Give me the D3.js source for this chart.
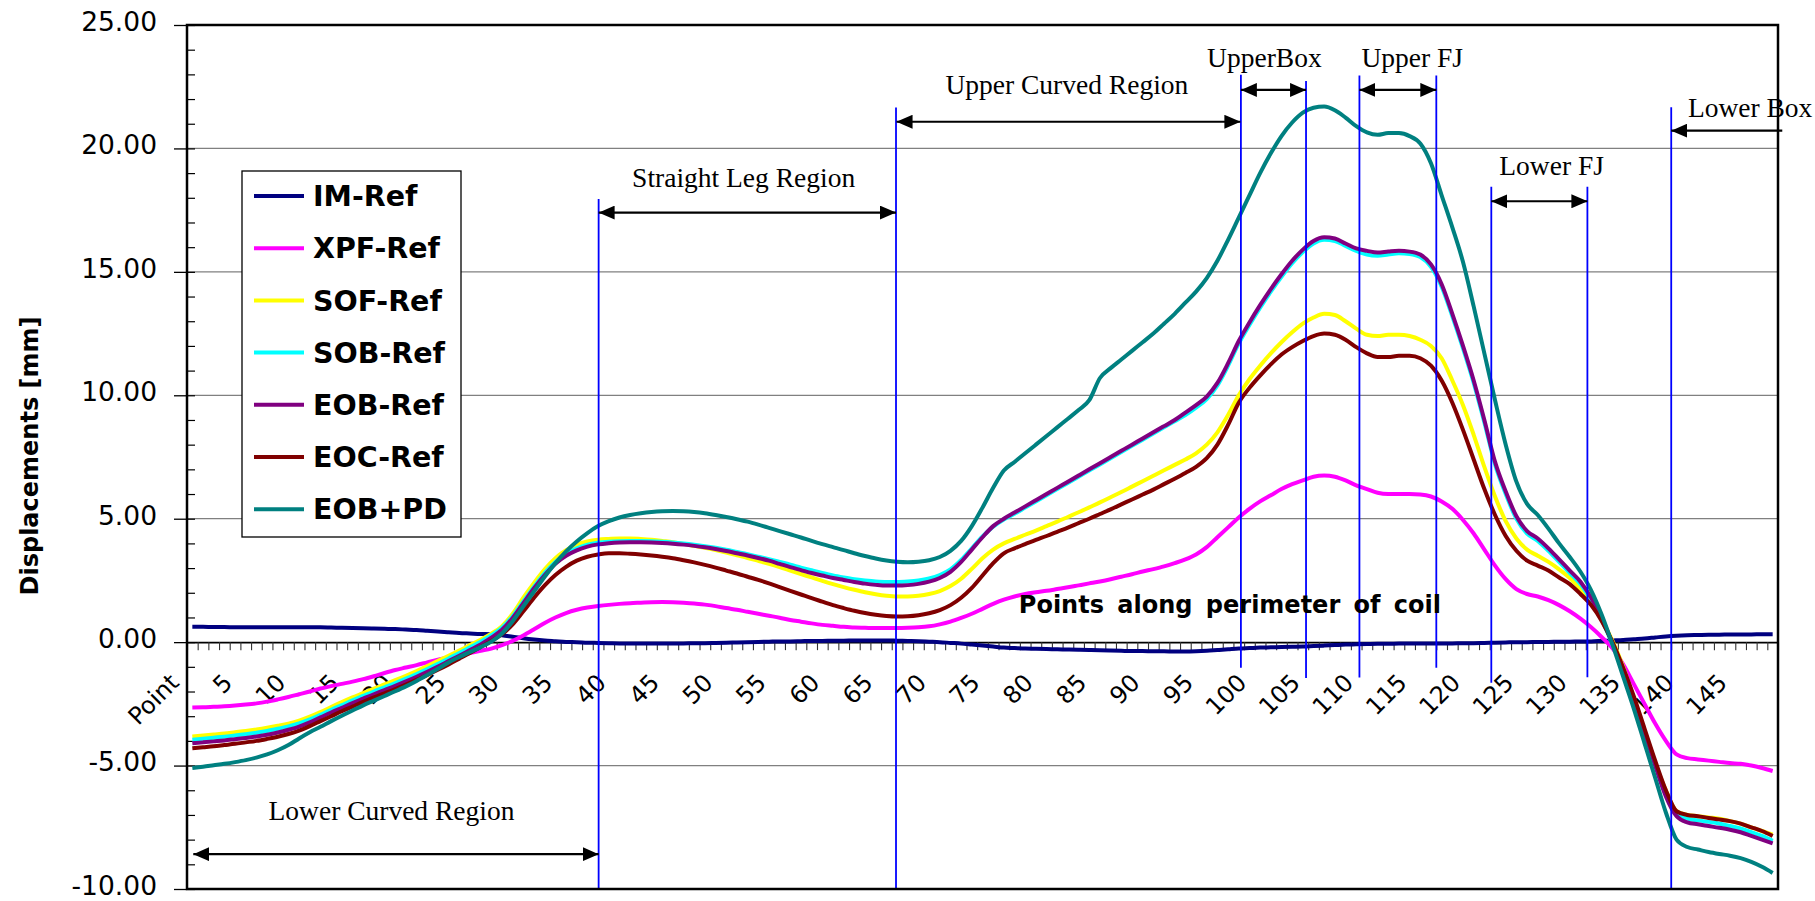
<!DOCTYPE html>
<html><head><meta charset="utf-8">
<script src="https://cdn.jsdelivr.net/npm/d3@7"></script>
<style>
html,body{margin:0;padding:0;background:#fff;}
svg{display:block;}
</style></head><body>
<svg id="chart" width="1815" height="901"></svg>
<script>
// ---- data ----
const categories = ["Point", ...d3.range(1, 149).map(String)];
const tickLabels = categories.filter((c, i) => i % 5 === 0);
const yTicks = [-10, -5, 0, 5, 10, 15, 20, 25];
const seriesNames = ["IM-Ref", "XPF-Ref", "SOF-Ref", "SOB-Ref", "EOB-Ref", "EOC-Ref", "EOB+PD"];

const imRef = [
  0.62, 0.62, 0.61, 0.61, 0.6, 0.6, 0.6, 0.6, 0.6, 0.6, 0.6, 0.6, 0.6,
  0.59, 0.58, 0.57, 0.56, 0.55, 0.54, 0.53, 0.51,
  0.49, 0.46, 0.43, 0.4, 0.37, 0.35, 0.33, 0.32, 0.28, 0.22,
  0.16, 0.11, 0.07, 0.04, 0.01, 0.0, -0.02,
  -0.03, -0.04, -0.05, -0.05, -0.05, -0.05, -0.05, -0.05, -0.05, -0.04, -0.04, -0.03, -0.02,
  -0.01, 0, 0.01, 0.02, 0.03, 0.03, 0.04, 0.05, 0.05, 0.06, 0.06, 0.07, 0.07, 0.07, 0.07, 0.06, 0.05,
  0.04, 0.02, 0.0, -0.03, -0.06, -0.1, -0.14, -0.18, -0.22,
  -0.24, -0.26, -0.27, -0.28, -0.29, -0.3, -0.31, -0.32, -0.33, -0.34, -0.35, -0.36, -0.36, -0.37, -0.37, -0.38, -0.38, -0.37, -0.35,
  -0.32, -0.29, -0.26, -0.24, -0.22, -0.21, -0.2, -0.19, -0.18, -0.16, -0.14, -0.12, -0.1, -0.09, -0.08,
  -0.07, -0.07, -0.06, -0.06, -0.06, -0.05, -0.05, -0.05, -0.04, -0.04, -0.03, -0.02, -0.01, 0, 0, 0.01, 0.01, 0.02, 0.02, 0.03, 0.03,
  0.05, 0.07, 0.09, 0.12, 0.15, 0.19, 0.23, 0.26, 0.28, 0.29, 0.3, 0.3, 0.31, 0.31, 0.31, 0.32, 0.32
];
const xpfRef = [
  -2.65, -2.64, -2.62, -2.6, -2.57, -2.53, -2.48, -2.41, -2.32, -2.22,
  -2.11, -2.0, -1.88, -1.78, -1.69, -1.6, -1.5, -1.38, -1.25, -1.13,
  -1.03, -0.93, -0.82, -0.71, -0.62, -0.53, -0.44, -0.35, -0.26, -0.12,
  0.05, 0.27, 0.52, 0.78, 1.0, 1.18, 1.31, 1.4, 1.46, 1.51,
  1.55, 1.58, 1.6, 1.62, 1.63, 1.62, 1.6, 1.57, 1.52, 1.46,
  1.38, 1.31, 1.23, 1.15, 1.07, 0.99, 0.9, 0.83, 0.76, 0.7,
  0.66, 0.62, 0.59, 0.58, 0.57, 0.57, 0.57, 0.58, 0.6, 0.64,
  0.72, 0.83, 0.98, 1.15, 1.35, 1.55, 1.72, 1.85, 1.95, 2.02,
  2.08, 2.15, 2.22, 2.3, 2.38, 2.46, 2.55, 2.65, 2.75, 2.86,
  2.96, 3.07, 3.2, 3.35, 3.55, 3.85, 4.25, 4.65, 5.05, 5.4,
  5.7, 5.95, 6.2, 6.4, 6.55, 6.7, 6.75, 6.7, 6.55, 6.35,
  6.2, 6.05, 6.0, 6.0, 6.0, 5.98, 5.9, 5.7, 5.4, 4.95,
  4.4, 3.75, 3.1, 2.55, 2.15, 1.95, 1.85, 1.7, 1.5, 1.25,
  0.95, 0.6, 0.2, -0.25, -0.9, -1.7, -2.5, -3.3, -4.0, -4.55,
  -4.7, -4.75, -4.8, -4.85, -4.9, -4.93, -5.0, -5.1, -5.22
];
const sofRef = [
  -3.82, -3.78, -3.74, -3.7, -3.65, -3.6, -3.54, -3.47, -3.39, -3.3,
  -3.18, -3.02, -2.83, -2.63, -2.43, -2.24, -2.06, -1.88, -1.71, -1.54,
  -1.36, -1.17, -0.97, -0.76, -0.55, -0.34, -0.12, 0.1, 0.34, 0.65,
  1.15, 1.8, 2.4, 2.95, 3.4, 3.72, 3.95, 4.08, 4.15, 4.18,
  4.2, 4.2, 4.18, 4.15, 4.1, 4.05, 3.98, 3.9, 3.82, 3.73,
  3.63, 3.52, 3.41, 3.29, 3.17, 3.04, 2.9, 2.76, 2.62, 2.48,
  2.35, 2.23, 2.12, 2.02, 1.94, 1.88, 1.85, 1.85, 1.88, 1.95,
  2.07, 2.27, 2.57, 2.97, 3.4, 3.75, 4.0, 4.18, 4.35, 4.52,
  4.7, 4.88, 5.07, 5.26, 5.46, 5.66, 5.87, 6.08, 6.3, 6.52,
  6.74, 6.96, 7.18, 7.4, 7.65, 8.0, 8.5, 9.2, 10.0, 10.65,
  11.2, 11.7, 12.15, 12.55, 12.9, 13.15, 13.3, 13.25, 13.0, 12.7,
  12.45, 12.4, 12.45, 12.45, 12.4, 12.25, 12.0, 11.5, 10.6, 9.6,
  8.4, 7.1, 5.9, 4.9, 4.2, 3.75, 3.5, 3.25, 2.95, 2.6,
  2.15, 1.6, 0.9, 0.05, -1.0, -2.3, -3.6, -4.9, -6.0, -6.85,
  -7.0, -7.05, -7.1, -7.15, -7.25, -7.35, -7.5, -7.65, -7.8
];
const sobRef = [
  -3.95, -3.91, -3.87, -3.83, -3.78, -3.73, -3.67, -3.6, -3.51, -3.41,
  -3.29, -3.13, -2.94, -2.74, -2.55, -2.36, -2.18, -2.0, -1.83, -1.66,
  -1.48, -1.29, -1.09, -0.88, -0.66, -0.44, -0.21, 0.02, 0.28, 0.58,
  1.05, 1.65, 2.25, 2.8, 3.25, 3.58, 3.8, 3.95, 4.03, 4.07,
  4.09, 4.1, 4.1, 4.09, 4.07, 4.04, 4.0, 3.95, 3.89, 3.82,
  3.74, 3.65, 3.56, 3.46, 3.36, 3.25, 3.14, 3.02, 2.91, 2.8,
  2.7, 2.62, 2.55, 2.5, 2.46, 2.44, 2.44, 2.46, 2.5, 2.58,
  2.72, 2.95, 3.33, 3.8, 4.28, 4.68, 4.97, 5.2, 5.45, 5.7,
  5.95, 6.2, 6.45, 6.7, 6.95, 7.2, 7.45, 7.7, 7.95, 8.2,
  8.45, 8.7, 8.95, 9.2, 9.5, 9.85, 10.4, 11.2, 12.1, 12.85,
  13.55, 14.2, 14.8, 15.35, 15.8, 16.15, 16.3, 16.25, 16.05, 15.85,
  15.7, 15.65, 15.7, 15.75, 15.72, 15.6, 15.2, 14.4, 13.2, 11.9,
  10.5, 8.9, 7.2, 6.0, 5.0, 4.4, 4.1, 3.7, 3.25, 2.8,
  2.35, 1.7, 0.9, -0.1, -1.1, -2.3, -3.6, -4.9, -6.1, -6.95,
  -7.15, -7.22, -7.28, -7.35, -7.45, -7.55, -7.7, -7.85, -8.05
];
const eobRef = [
  -4.1, -4.06, -4.02, -3.98, -3.93, -3.88, -3.82, -3.75, -3.66, -3.55,
  -3.42, -3.25, -3.05, -2.85, -2.66, -2.47, -2.29, -2.11, -1.94, -1.77,
  -1.59, -1.4, -1.2, -0.99, -0.77, -0.55, -0.32, -0.09, 0.18, 0.5,
  0.98, 1.58, 2.18, 2.72, 3.18, 3.5, 3.72, 3.87, 3.96, 4.01,
  4.04, 4.05, 4.05, 4.04, 4.02, 3.99, 3.95, 3.9, 3.84, 3.77,
  3.69, 3.6, 3.51, 3.41, 3.3, 3.17, 3.04, 2.92, 2.8, 2.7,
  2.6, 2.52, 2.44, 2.37, 2.32, 2.29, 2.29, 2.31, 2.36, 2.45,
  2.6, 2.85, 3.25, 3.75, 4.25, 4.7, 5.0, 5.25, 5.5, 5.75,
  6.0, 6.25, 6.5, 6.75, 7.0, 7.25, 7.5, 7.75, 8.0, 8.25,
  8.5, 8.75, 9.0, 9.3, 9.6, 9.95, 10.5, 11.3, 12.2, 12.95,
  13.65, 14.3, 14.9, 15.45, 15.9, 16.25, 16.4, 16.35, 16.15, 15.95,
  15.85, 15.78, 15.82, 15.85, 15.82, 15.7, 15.3, 14.5, 13.3, 12.0,
  10.6, 9.0, 7.3, 6.1, 5.1, 4.5, 4.2, 3.8, 3.35, 2.9,
  2.45, 1.8, 0.95, -0.05, -1.1, -2.3, -3.65, -5.0, -6.25, -7.05,
  -7.3, -7.38, -7.45, -7.52, -7.6, -7.7, -7.85, -8.0, -8.15
];
const eocRef = [
  -4.3, -4.26, -4.22, -4.17, -4.12, -4.06, -4.0, -3.92, -3.83, -3.72,
  -3.58, -3.4, -3.2, -3.0, -2.8, -2.61, -2.42, -2.24, -2.07, -1.9,
  -1.72, -1.53, -1.33, -1.12, -0.9, -0.67, -0.44, -0.2, 0.05, 0.32,
  0.72, 1.25, 1.8, 2.3, 2.72, 3.05, 3.3, 3.46, 3.55, 3.6,
  3.6, 3.58, 3.55, 3.51, 3.46, 3.4, 3.32, 3.23, 3.13, 3.02,
  2.9, 2.78, 2.65, 2.52, 2.38, 2.23, 2.08, 1.93, 1.78, 1.64,
  1.5, 1.38, 1.27, 1.18, 1.11, 1.06, 1.04, 1.05, 1.09, 1.17,
  1.3, 1.5, 1.8, 2.2, 2.7, 3.2, 3.6, 3.8, 3.97, 4.14,
  4.3, 4.47, 4.64, 4.82, 5.0, 5.19, 5.38, 5.58, 5.78, 5.98,
  6.18, 6.4, 6.62, 6.85, 7.1, 7.45, 8.0, 8.8, 9.7, 10.3,
  10.8, 11.25, 11.65, 11.95, 12.2, 12.4, 12.5, 12.45, 12.25, 11.95,
  11.7, 11.55, 11.55, 11.6, 11.6, 11.5, 11.2, 10.6, 9.7, 8.6,
  7.4, 6.2, 5.15, 4.3, 3.7, 3.3, 3.1, 2.9, 2.62, 2.35,
  1.95, 1.5, 0.85, 0.0, -1.05, -2.2, -3.5, -4.8, -6.0, -6.85,
  -7.0, -7.05, -7.12, -7.18, -7.25, -7.35, -7.5, -7.65, -7.85
];
const eobPd = [
  -5.1, -5.05, -4.99, -4.93, -4.86, -4.78, -4.68, -4.55, -4.38, -4.17,
  -3.9, -3.65, -3.43, -3.2, -2.98, -2.77, -2.56, -2.37, -2.18, -1.99,
  -1.79, -1.57, -1.33, -1.08, -0.82, -0.6, -0.4, -0.2, 0.02, 0.35,
  0.85, 1.45, 2.05, 2.65, 3.2, 3.68, 4.08, 4.42, 4.7, 4.9,
  5.05, 5.15, 5.22, 5.27, 5.3, 5.31, 5.3, 5.27, 5.22, 5.15,
  5.07, 4.98, 4.88, 4.76, 4.63, 4.5, 4.37, 4.24, 4.1, 3.97,
  3.85, 3.73, 3.6, 3.49, 3.39, 3.31, 3.26, 3.24, 3.26, 3.32,
  3.45, 3.7, 4.1, 4.7, 5.45, 6.25, 6.95, 7.3, 7.65, 8.0,
  8.35, 8.7, 9.05, 9.4, 9.8, 10.7, 11.1, 11.45, 11.8, 12.15,
  12.5, 12.9, 13.3, 13.75, 14.2, 14.75, 15.45, 16.3, 17.2, 18.1,
  19.0, 19.8, 20.5, 21.05, 21.45, 21.65, 21.7, 21.55, 21.25, 20.9,
  20.65, 20.55, 20.62, 20.62, 20.5, 20.2, 19.4, 18.1, 16.8, 15.4,
  13.6, 11.7, 9.8, 8.0, 6.5, 5.6, 5.15, 4.6, 4.0, 3.45,
  2.85, 2.1, 1.1, -0.1, -1.4, -2.7, -4.1, -5.5, -6.9, -8.0,
  -8.3, -8.4, -8.5, -8.58, -8.65, -8.75, -8.9, -9.1, -9.35
];

const seriesValues = [imRef, xpfRef, sofRef, sobRef, eobRef, eocRef, eobPd];
const seriesColors = ["#000080", "#FF00FF", "#FFFF00", "#00FFFF", "#800080", "#800000", "#008080"];

seriesValues.forEach((vals, k) => {
  if (vals.length !== categories.length) throw new Error(seriesNames[k] + " has " + vals.length + " values");
});

// ---- layout ----
const svg = d3.select("#chart");
const plot = { left: 187, right: 1778, top: 25, bottom: 889 };
const sansFont = "'DejaVu Sans', Verdana, sans-serif";
const serifFont = "'Liberation Serif', 'Times New Roman', serif";

const x = d3.scaleBand().domain(categories).range([plot.left, plot.right]).padding(0);
const xEdge = d3.scaleLinear().domain([0, categories.length]).range([plot.left, plot.right]);
const y = d3.scaleLinear().domain([-10, 25]).range([plot.bottom, plot.top]);
const cx = c => x(c) + x.bandwidth() / 2;

// horizontal gridlines
svg.append("g").selectAll("line")
  .data(yTicks.filter(v => v !== -10 && v !== 0 && v !== 25))
  .join("line")
  .attr("x1", plot.left).attr("x2", plot.right)
  .attr("y1", d => y(d)).attr("y2", d => y(d))
  .attr("stroke", "#808080").attr("stroke-width", 1.3);

// y axis: major ticks outside with labels, minor ticks inside
const yAxis = svg.append("g")
  .attr("transform", `translate(${plot.left},0)`)
  .call(d3.axisLeft(y).tickValues(yTicks).tickSize(13).tickPadding(17).tickFormat(d => d.toFixed(2)));
yAxis.select(".domain").remove();
yAxis.selectAll("line").attr("stroke", "#000").attr("stroke-width", 1.3);
yAxis.selectAll("text")
  .attr("font-family", sansFont).attr("font-size", 26.5).attr("fill", "#000")
  .attr("dy", "0.2em");

const yMinor = svg.append("g")
  .attr("transform", `translate(${plot.left},0)`)
  .call(d3.axisRight(y).tickValues(d3.range(-10, 26, 1)).tickSize(8).tickFormat(""));
yMinor.select(".domain").remove();
yMinor.selectAll("line").attr("stroke", "#000").attr("stroke-width", 1.2);

// x axis on the zero line: a tick at every category boundary
const xAxis = svg.append("g")
  .attr("transform", `translate(0,${y(0)})`)
  .call(d3.axisBottom(xEdge).tickValues(d3.range(0, categories.length + 1)).tickSize(8).tickSizeOuter(0).tickFormat(""));
xAxis.select(".domain").attr("stroke", "#000").attr("stroke-width", 1.6);
xAxis.selectAll(".tick line").attr("stroke", "#333").attr("stroke-width", 1.1);

// rotated category labels, every fifth point
const xLabels = svg.append("g")
  .attr("transform", `translate(0,${y(0)})`)
  .call(d3.axisBottom(x).tickValues(tickLabels).tickSize(0).tickPadding(0));
xLabels.select(".domain").remove();
xLabels.selectAll("text")
  .attr("font-family", sansFont).attr("font-size", 24).attr("fill", "#000")
  .attr("text-anchor", "end").attr("x", 0).attr("y", 0).attr("dy", 0)
  .attr("transform", "translate(-12,42) rotate(-45)");

// data lines
const line = d3.line()
  .x((d, i) => cx(categories[i]))
  .y(d => y(d))
  .curve(d3.curveMonotoneX);

svg.append("g").selectAll("path")
  .data(seriesValues)
  .join("path")
  .attr("d", d => line(d))
  .attr("fill", "none")
  .attr("stroke", (d, i) => seriesColors[i])
  .attr("stroke-width", 4)
  .attr("stroke-linejoin", "round");

// region boundaries (category units on xEdge, displacement units on y)
const regionLines = [
  { u: 38.55, y1: -10, y2: 17.95 },
  { u: 66.4, y1: -10, y2: 21.66 },
  { u: 98.7, y1: -1.04, y2: 22.98 },
  { u: 104.8, y1: -1.45, y2: 22.73 },
  { u: 109.8, y1: -1.43, y2: 22.95 },
  { u: 117.0, y1: -1.04, y2: 22.95 },
  { u: 122.15, y1: -1.65, y2: 18.45 },
  { u: 131.15, y1: -1.42, y2: 18.45 },
  { u: 139.0, y1: -10, y2: 21.67 }
];
svg.append("g").selectAll("line")
  .data(regionLines)
  .join("line")
  .attr("x1", d => xEdge(d.u)).attr("x2", d => xEdge(d.u))
  .attr("y1", d => y(d.y1)).attr("y2", d => y(d.y2))
  .attr("stroke", "#0000FF").attr("stroke-width", 1.8);

// arrows and region names
const defs = svg.append("defs");
defs.append("marker")
  .attr("id", "head").attr("viewBox", "0 0 16 14").attr("refX", 16).attr("refY", 7)
  .attr("markerUnits", "userSpaceOnUse").attr("markerWidth", 16).attr("markerHeight", 14)
  .attr("orient", "auto-start-reverse")
  .append("path").attr("d", "M0,0 L16,7 L0,14 Z").attr("fill", "#000");

const regionArrows = [
  { u1: 0.59, u2: 38.55, v: -8.59, both: true },
  { u1: 38.55, u2: 66.4, v: 17.4, both: true },
  { u1: 66.45, u2: 98.65, v: 21.08, both: true },
  { u1: 98.7, u2: 104.8, v: 22.37, both: true },
  { u1: 109.8, u2: 117.0, v: 22.37, both: true },
  { u1: 122.15, u2: 131.15, v: 17.86, both: true },
  { u1: 149.4, u2: 139.0, v: 20.72, both: false }
];
svg.append("g").selectAll("line")
  .data(regionArrows)
  .join("line")
  .attr("x1", d => xEdge(d.u1)).attr("x2", d => xEdge(d.u2))
  .attr("y1", d => y(d.v)).attr("y2", d => y(d.v))
  .attr("stroke", "#000").attr("stroke-width", 2.2)
  .attr("marker-end", "url(#head)")
  .attr("marker-start", d => d.both ? "url(#head)" : null);

const regionNames = [
  { text: "Lower Curved Region", u: 19.15, v: -7.19, anchor: "middle" },
  { text: "Straight Leg Region", u: 52.13, v: 18.43, anchor: "middle" },
  { text: "Upper Curved Region", u: 82.4, v: 22.19, anchor: "middle" },
  { text: "UpperBox", u: 100.9, v: 23.31, anchor: "middle" },
  { text: "Upper FJ", u: 114.75, v: 23.31, anchor: "middle" },
  { text: "Lower FJ", u: 127.8, v: 18.93, anchor: "middle" },
  { text: "Lower Box", u: 140.56, v: 21.29, anchor: "start" }
];
svg.append("g").selectAll("text")
  .data(regionNames)
  .join("text")
  .attr("x", d => xEdge(d.u)).attr("y", d => y(d.v))
  .attr("text-anchor", d => d.anchor)
  .attr("font-family", serifFont).attr("font-size", 27.5).attr("fill", "#000")
  .text(d => d.text);

// plot frame
svg.append("rect")
  .attr("x", plot.left).attr("y", plot.top)
  .attr("width", plot.right - plot.left).attr("height", plot.bottom - plot.top)
  .attr("fill", "none").attr("stroke", "#000").attr("stroke-width", 2.5);

// axis titles
svg.append("text")
  .attr("x", xEdge(77.9)).attr("y", y(1.19))
  .attr("font-family", sansFont).attr("font-weight", "bold").attr("font-size", 24)
  .attr("word-spacing", 5).attr("fill", "#000")
  .text("Points along perimeter of coil");

svg.append("text")
  .attr("transform", `translate(38,456) rotate(-90)`)
  .attr("text-anchor", "middle")
  .attr("font-family", sansFont).attr("font-weight", "bold").attr("font-size", 24)
  .attr("fill", "#000")
  .text("Displacements [mm]");

// legend
const legend = svg.append("g").attr("transform", "translate(242,171)");
legend.append("rect")
  .attr("width", 219).attr("height", 366)
  .attr("fill", "#fff").attr("stroke", "#000").attr("stroke-width", 1.3);
const rows = legend.selectAll("g.row")
  .data(seriesNames)
  .join("g").attr("class", "row")
  .attr("transform", (d, i) => `translate(0,${25 + i * 52.2})`);
rows.append("line")
  .attr("x1", 12).attr("x2", 62)
  .attr("stroke", (d, i) => seriesColors[i]).attr("stroke-width", 4);
rows.append("text")
  .attr("x", 71).attr("dy", "0.36em")
  .attr("font-family", sansFont).attr("font-weight", "bold").attr("font-size", 28.5)
  .attr("fill", "#000")
  .text(d => d);
</script>
</body></html>
